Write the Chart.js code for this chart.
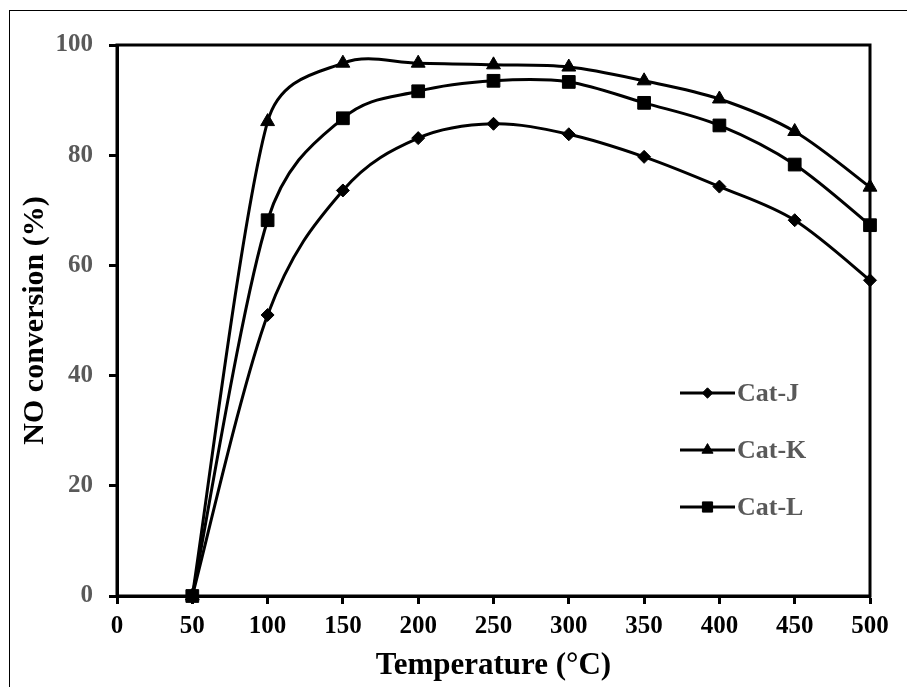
<!DOCTYPE html>
<html>
<head>
<meta charset="utf-8">
<script src="https://cdn.jsdelivr.net/npm/chart.js@4.4.1/dist/chart.umd.min.js"></script>
<style>
  html, body { margin: 0; padding: 0; background: #fff; }
  #wrap { position: relative; width: 907px; height: 687px; overflow: hidden; }
  #frame { position: absolute; left: 9px; top: 10px; width: 1000px; height: 1000px; border-top: 1px solid #000; border-left: 1px solid #000; box-sizing: border-box; }
  canvas { position: absolute; left: 0; top: 0; }
</style>
</head>
<body>
<div id="wrap">
  <div id="frame"></div>
  <canvas id="c" width="907" height="687"></canvas>
</div>
<script>
const temperatures = [50, 100, 150, 200, 250, 300, 350, 400, 450, 500];
const catJ = [0, 51.0, 73.6, 83.1, 85.7, 83.8, 79.7, 74.3, 68.2, 57.3];
const catK = [0, 86.1, 96.7, 96.7, 96.4, 96.0, 93.5, 90.2, 84.3, 74.2];
const catL = [0, 68.2, 86.7, 91.6, 93.5, 93.3, 89.5, 85.4, 78.3, 67.3];
const seriesNames = ['Cat-J', 'Cat-K', 'Cat-L'];
const xTicks = [0, 50, 100, 150, 200, 250, 300, 350, 400, 450, 500];
const yTicks = [0, 20, 40, 60, 80, 100];

const FONT = "'Liberation Serif', 'Times New Roman', serif";

function pts(vals) { return temperatures.map((t, i) => ({ x: t, y: vals[i] })); }

const styles = [
  { pointStyle: 'rectRot', pointRadius: 6.5 },
  { pointStyle: 'triangle', pointRadius: 8 },
  { pointStyle: 'rect', pointRadius: 9 }
];

const datasets = [catJ, catK, catL].map((vals, i) => ({
  label: seriesNames[i],
  data: pts(vals),
  borderColor: '#000',
  backgroundColor: '#000',
  borderWidth: 3,
  pointStyle: styles[i].pointStyle,
  pointRadius: styles[i].pointRadius,
  pointBorderWidth: 1,
  pointBackgroundColor: '#000',
  pointBorderColor: '#000',
  tension: 0.4,
  capBezierPoints: false,
  clip: false
}));

// Excel-like smoothing: Catmull-Rom arms (1/6 of neighbour span), shortened next to short segments
const excelSmooth = {
  id: 'excelSmooth',
  beforeDatasetDraw(chart, args) {
    const line = args.meta.dataset;
    if (!line) return;
    line.updateControlPoints(chart.chartArea, 'x');
    const p = args.meta.data;
    const n = p.length;
    const dist = (a, b) => Math.hypot(b.x - a.x, b.y - a.y);
    for (let i = 0; i < n; i++) {
      const prev = p[Math.max(0, i - 1)];
      const next = p[Math.min(n - 1, i + 1)];
      const tx = next.x - prev.x, ty = next.y - prev.y;
      const dp = dist(prev, p[i]), dn = dist(p[i], next);
      const sum = dp + dn || 1;
      const fIn = Math.min(1 / 6, 0.5 * dp / sum);
      const fOut = Math.min(1 / 6, 0.5 * dn / sum);
      p[i].cp1x = p[i].x - tx * fIn; p[i].cp1y = p[i].y - ty * fIn;
      p[i].cp2x = p[i].x + tx * fOut; p[i].cp2y = p[i].y + ty * fOut;
    }
    line._path = undefined;
  }
};

const frameBox = {
  id: 'frameBox',
  beforeDatasetsDraw(chart) {
    const { ctx, chartArea: a } = chart;
    ctx.save();
    ctx.strokeStyle = '#000';
    ctx.lineWidth = 3;
    ctx.strokeRect(a.left, a.top, a.right - a.left, a.bottom - a.top);
    ctx.restore();
  }
};

const innerLegend = {
  id: 'innerLegend',
  afterDraw(chart) {
    const { ctx } = chart;
    const x0 = 680, x1 = 735, rows = [393, 450, 507];
    chart.data.datasets.forEach((ds, i) => {
      const y = rows[i];
      ctx.save();
      ctx.strokeStyle = '#000';
      ctx.lineWidth = 3;
      ctx.beginPath();
      ctx.moveTo(x0, y);
      ctx.lineTo(x1, y);
      ctx.stroke();
      ctx.fillStyle = '#000';
      ctx.strokeStyle = '#000';
      ctx.lineWidth = 1;
      Chart.helpers.drawPoint(ctx, { pointStyle: ds.pointStyle, radius: ds.pointRadius * 0.8, borderWidth: 1 }, (x0 + x1) / 2, y);
      ctx.fillStyle = '#595959';
      ctx.font = 'bold 26px ' + FONT;
      ctx.textAlign = 'left';
      ctx.textBaseline = 'middle';
      ctx.fillText(ds.label, x1 + 2, y + 1);
      ctx.restore();
    });
  }
};

new Chart(document.getElementById('c'), {
  type: 'line',
  data: { datasets },
  plugins: [excelSmooth, frameBox, innerLegend],
  options: {
    responsive: false,
    animation: false,
    layout: { padding: { left: 0, top: 45, right: 37, bottom: 0 } },
    plugins: { legend: { display: false }, tooltip: { enabled: false } },
    scales: {
      x: {
        type: 'linear',
        min: 0, max: 500,
        afterBuildTicks(scale) { scale.ticks = xTicks.map(v => ({ value: v })); },
        afterFit(scale) { scale.height = 91; },
        border: { display: true, color: '#000', width: 3 },
        grid: { drawOnChartArea: false, drawTicks: true, tickLength: 8, tickWidth: 3, tickColor: '#000', color: '#000' },
        ticks: { color: '#000', padding: 8, font: { family: FONT, size: 25, weight: 'bold' }, maxRotation: 0 },
        title: { display: true, text: 'Temperature (°C)', color: '#000', padding: { top: 0, bottom: 2 }, font: { family: FONT, size: 31, weight: 'bold' } }
      },
      y: {
        type: 'linear',
        min: 0, max: 100,
        afterBuildTicks(scale) { scale.ticks = yTicks.map(v => ({ value: v })); },
        afterFit(scale) { scale.width = 117; },
        border: { display: true, color: '#000', width: 3 },
        grid: { drawOnChartArea: false, drawTicks: true, tickLength: 8, tickWidth: 3, tickColor: '#000', color: '#000' },
        ticks: { color: '#595959', padding: 16, font: { family: FONT, size: 25, weight: 'bold' } },
        title: { display: true, text: 'NO conversion (%)', color: '#000', padding: { top: 17, bottom: 0 }, font: { family: FONT, size: 30, weight: 'bold' } }
      }
    }
  }
});
</script>
</body>
</html>
